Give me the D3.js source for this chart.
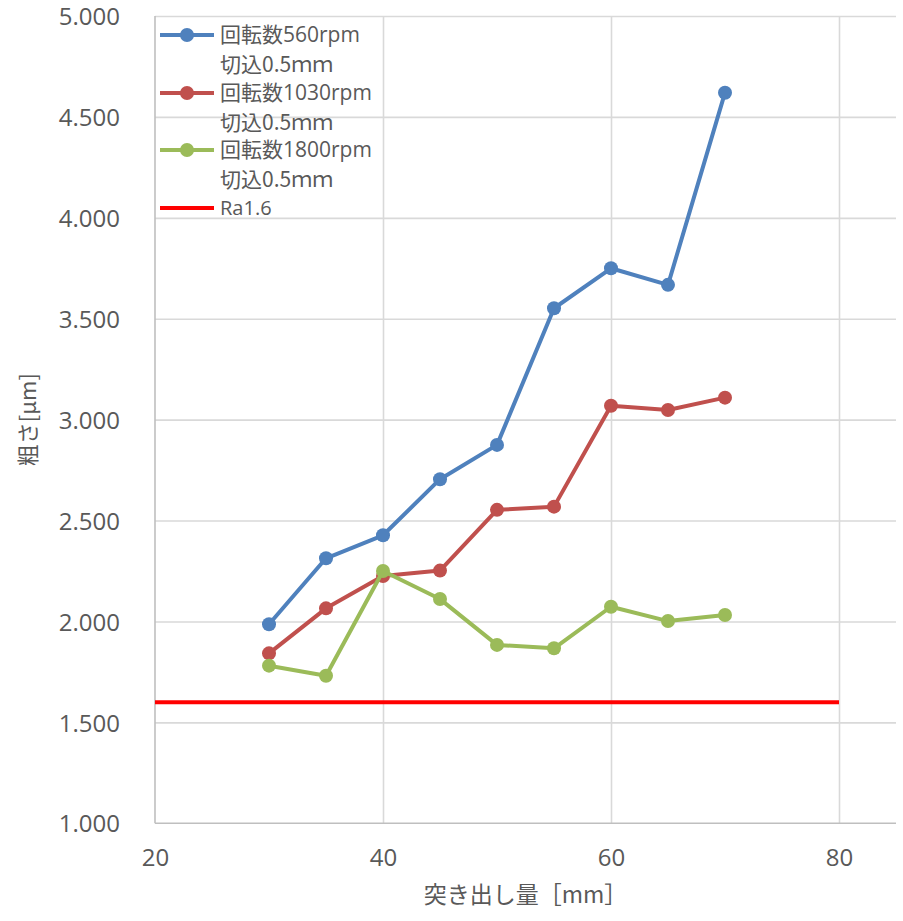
<!DOCTYPE html>
<html><head><meta charset="utf-8">
<script src="https://cdn.jsdelivr.net/npm/d3@7"></script>
<style>body{margin:0;background:#fff;} svg{display:block;}</style>
</head><body><svg id="c" width="903" height="921"></svg>
<script>
const xValues = [30, 35, 40, 45, 50, 55, 60, 65, 70];
const s560  = [1.986, 2.313, 2.427, 2.705, 2.875, 3.552, 3.750, 3.668, 4.620];
const s1030 = [1.842, 2.065, 2.225, 2.252, 2.553, 2.569, 3.069, 3.048, 3.109];
const s1800 = [1.781, 1.731, 2.250, 2.111, 1.884, 1.867, 2.073, 2.002, 2.032];
const raValue = 1.6;
const raX = [20, 80];
const seriesLabels = [["回転数560rpm", "切込0.5ｍｍ"], ["回転数1030rpm", "切込0.5ｍｍ"], ["回転数1800rpm", "切込0.5ｍｍ"]];
const raLabel = "Ra1.6";
const seriesColors = ["#4F81BD", "#C0504D", "#9BBB59"];
const raColor = "#FF0000";
const xTicks = [20, 40, 60, 80];
const yTicks = [1, 1.5, 2, 2.5, 3, 3.5, 4, 4.5, 5];
const xTitle = "突き出し量［mm］";
const yTitle = "粗さ[μm]";

const svg = d3.select("#c");
const L = 155, R = 896, T = 16, B = 823.3;
const x = d3.scaleLinear().domain([20, 85]).range([L, R]);
const y = d3.scaleLinear().domain([1, 5]).range([B, T]);
const latin = "'Open Sans','Noto Sans CJK JP',sans-serif";
const cjk = "'Noto Sans CJK JP',sans-serif";

// gridlines
const gy = svg.append("g").attr("transform", `translate(${L},0)`)
  .call(d3.axisLeft(y).tickValues(yTicks.filter(v => v > 1)).tickSize(-(R - L)).tickFormat(""));
gy.select(".domain").remove();
gy.selectAll("line").attr("stroke", "#D9D9D9").attr("stroke-width", 1.6);
const gx = svg.append("g").attr("transform", `translate(0,${B})`)
  .call(d3.axisBottom(x).tickValues(xTicks.filter(v => v > 20)).tickSize(-(B - T)).tickFormat(""));
gx.select(".domain").remove();
gx.selectAll("line").attr("stroke", "#D9D9D9").attr("stroke-width", 1.6);

// axis lines
svg.append("line").attr("x1", L).attr("x2", L).attr("y1", T).attr("y2", B).attr("stroke", "#BFBFBF").attr("stroke-width", 1.6);
svg.append("line").attr("x1", L).attr("x2", R).attr("y1", B).attr("y2", B).attr("stroke", "#BFBFBF").attr("stroke-width", 1.6);

// tick labels
const ay = svg.append("g").attr("transform", `translate(${L - 35},1)`)
  .call(d3.axisLeft(y).tickValues(yTicks).tickSize(0).tickPadding(0).tickFormat(d3.format(".3f")));
ay.select(".domain").remove();
ay.selectAll("text").attr("fill", "#595959").style("font-family", latin).style("font-size", "24px");
const ax = svg.append("g").attr("transform", `translate(0,${B + 26})`)
  .call(d3.axisBottom(x).tickValues(xTicks).tickSize(0).tickPadding(0).tickFormat(d3.format("d")));
ax.select(".domain").remove();
ax.selectAll("text").attr("fill", "#595959").style("font-family", latin).style("font-size", "24px");

// titles
svg.append("text").attr("x", (L + R) / 2).attr("y", 903).attr("text-anchor", "middle")
  .attr("fill", "#595959").style("font-family", cjk).style("font-size", "23px").text(xTitle);
svg.append("text").attr("transform", `translate(36,${(T + B) / 2}) rotate(-90)`).attr("text-anchor", "middle")
  .attr("fill", "#595959").style("font-family", cjk).style("font-size", "22px").text(yTitle);

// series
const allSeries = [s560, s1030, s1800];
const line = d3.line().x(d => x(d[0])).y(d => y(d[1]));
allSeries.forEach((s, i) => {
  const pts = xValues.map((v, j) => [v, s[j]]);
  svg.append("path").datum(pts).attr("d", line).attr("fill", "none")
    .attr("stroke", seriesColors[i]).attr("stroke-width", 4).attr("stroke-linejoin", "round");
  svg.append("g").selectAll("circle").data(pts).join("circle")
    .attr("cx", d => x(d[0])).attr("cy", d => y(d[1])).attr("r", 7).attr("fill", seriesColors[i]);
});
svg.append("path").datum(raX.map(v => [v, raValue])).attr("d", line)
  .attr("stroke", raColor).attr("stroke-width", 4).attr("fill", "none");

// legend
const legY = [35, 93, 150, 208];
const lg = svg.append("g");
seriesLabels.forEach((lab, i) => {
  const cy = legY[i];
  lg.append("line").attr("x1", 160).attr("x2", 214).attr("y1", cy).attr("y2", cy)
    .attr("stroke", seriesColors[i]).attr("stroke-width", 4);
  lg.append("circle").attr("cx", 187).attr("cy", cy).attr("r", 7).attr("fill", seriesColors[i]);
  lab.forEach((t, k) => {
    lg.append("text").attr("x", 220).attr("y", cy + k * 30).attr("dy", "0.35em")
      .attr("fill", "#595959").style("font-family", k === 0 ? latin : cjk).style("font-size", "21px").text(t);
  });
});
lg.append("line").attr("x1", 160).attr("x2", 214).attr("y1", legY[3]).attr("y2", legY[3])
  .attr("stroke", raColor).attr("stroke-width", 4);
lg.append("text").attr("x", 220).attr("y", legY[3]).attr("dy", "0.35em")
  .attr("fill", "#595959").style("font-family", latin).style("font-size", "20px").text(raLabel);
</script></body></html>
